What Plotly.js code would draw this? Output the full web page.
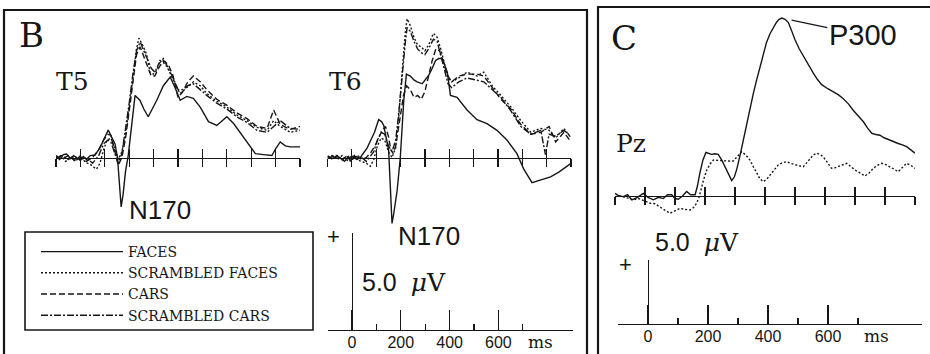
<!DOCTYPE html>
<html><head><meta charset="utf-8">
<script src="https://cdn.plot.ly/plotly-3.0.1.min.js"></script>
<style>html,body{margin:0;padding:0;background:#fff}#chart{width:930px;height:354px}</style>
</head><body><div id="chart"></div>
<script>
// ---------------- DATA (time in ms, amplitude in microvolts) ----------------
const seriesNames = ['FACES', 'SCRAMBLED FACES', 'CARS', 'SCRAMBLED CARS'];
const pzNames = ['FACES', 'SCRAMBLED FACES'];
const msTicks = [-100, 0, 100, 200, 300, 400, 500, 600, 700, 800, 900];
const scaleMajorTicks = [0, 200, 400, 600];
const scaleMajorLabels = ['0', '200', '400', '600'];
const scaleMinorTicks = [100, 300, 500, 700];
const scaleBarMicrovolts = [5.0];

// T5
const t5FacesT = [-100,-85,-70,-57,-40,-28,-16,0,12,25,40,60,80,98,114,128,142,152,160,167,175,185,196,210,224,244,260,278,295,313,340,368,388,409,436,463,491,525,559,600,628,669,700,717,751,785,800,819,840,860,900];
const t5FacesV = [0.05,-0.1,0.15,0.18,-0.05,0.1,0.0,-0.15,0.05,-0.1,0.1,0.13,0.5,1.0,1.42,1.05,0.7,0.0,-1.3,-2.55,-1.9,-0.7,0.1,1.8,3.2,2.95,2.5,2.1,2.5,2.95,3.7,4.15,3.6,2.95,3.15,3.05,2.6,1.85,1.65,2.1,1.75,1.05,0.55,0.2,0.15,0.1,0.45,0.8,0.6,0.55,0.55];
const t5ScrFacesT = [-100,-80,-60,-40,-20,0,20,40,55,66,80,95,110,125,140,155,170,185,200,215,230,240,255,272,285,299,313,326,340,354,368,381,395,409,436,463,491,518,559,600,641,683,724,765,792,819,860,900];
const t5ScrFacesV = [0.0,0.1,-0.2,0.05,-0.2,0.1,-0.25,-0.35,-0.5,-0.6,-0.3,0.4,0.9,1.0,0.5,-0.1,0.3,1.2,2.6,4.2,5.6,6.15,5.8,5.3,4.4,4.3,4.5,5.0,4.9,4.7,4.3,4.0,3.6,3.3,3.6,3.9,3.7,3.3,2.9,2.6,2.2,1.9,1.55,1.4,1.9,1.6,1.3,1.4];
const t5CarsT = [-100,-75,-50,-25,0,25,50,75,95,112,125,140,155,170,185,200,215,230,245,260,275,290,305,320,340,360,380,400,420,440,463,491,518,559,600,641,683,724,765,792,819,860,900];
const t5CarsV = [0.1,-0.1,0.1,-0.15,0.05,-0.2,0.0,0.4,0.9,1.2,1.15,0.4,-0.4,0.0,1.0,2.4,4.0,5.3,5.7,5.2,4.8,4.2,4.2,4.6,5.0,4.8,4.2,3.1,3.4,3.9,4.2,3.9,3.5,3.0,2.7,2.3,2.0,1.6,1.5,2.45,1.7,1.45,1.6];
const t5ScrCarsT = [-100,-75,-50,-25,0,25,50,75,95,112,125,140,155,170,185,200,215,230,245,260,275,290,305,320,340,360,380,400,420,440,463,491,518,559,600,641,683,724,765,792,819,860,900];
const t5ScrCarsV = [-0.05,0.1,-0.1,0.05,-0.1,0.0,-0.3,0.1,0.7,0.9,0.8,0.2,-0.3,0.2,1.4,2.8,4.3,5.5,5.95,5.5,5.0,4.6,4.4,4.8,5.1,4.6,4.1,3.5,3.5,3.7,3.8,3.5,3.2,2.8,2.5,2.1,1.8,1.4,1.3,1.6,1.9,1.5,1.45];

// T6
const t6FacesT = [-100,-80,-62,-47,-30,-15,-6,10,22,35,50,63,76,93,110,122,131,140,151,158,165,172,186,199,206,213,224,240,255,268,289,302,316,330,344,357,371,392,405,432,473,514,555,596,637,678,706,740,775,816,850,878,900];
const t6FacesV = [0.05,-0.05,0.1,-0.05,-0.2,0.05,-0.2,0.1,-0.1,0.0,0.3,0.5,0.85,1.3,1.95,1.85,1.65,1.1,0.4,-1.5,-3.4,-2.9,-1.7,0.0,1.5,2.9,4.3,4.2,4.0,3.9,3.8,4.0,4.25,4.6,5.0,5.1,5.1,4.4,3.2,3.1,2.45,1.95,1.75,1.4,0.9,0.2,-0.6,-1.3,-1.15,-1.0,-0.75,-0.5,-0.3];
const t6ScrFacesT = [-100,-80,-60,-40,-20,0,20,40,60,76,90,105,120,135,150,165,180,192,200,210,220,227,240,255,270,285,300,315,335,350,365,380,395,410,439,473,514,542,576,612,653,694,735,776,810,837,871,900];
const t6ScrFacesV = [0.0,0.1,-0.1,0.1,-0.15,0.1,-0.1,-0.2,-0.3,-0.45,-0.1,0.6,1.0,0.9,0.3,0.0,0.5,2.0,3.5,5.0,6.5,7.15,6.8,6.2,5.8,5.7,5.5,5.8,6.4,6.2,5.6,4.8,4.1,3.9,4.1,4.4,4.2,4.4,3.7,3.2,2.6,1.9,1.3,1.5,1.4,1.0,1.5,1.0];
const t6CarsT = [-100,-80,-60,-40,-20,0,20,40,60,80,95,110,125,138,150,160,170,180,190,200,212,225,240,255,270,285,300,315,330,345,360,375,390,410,439,473,514,542,576,612,653,694,735,776,810,837,871,900];
const t6CarsV = [0.1,-0.1,0.05,-0.15,0.1,-0.1,0.05,-0.1,0.0,0.3,0.6,1.0,1.4,1.6,1.1,0.4,0.2,0.6,1.3,2.2,3.2,3.7,3.5,3.1,3.2,3.0,3.4,4.2,5.0,5.6,5.5,5.0,4.3,3.9,4.2,4.3,4.3,4.2,3.6,3.0,2.5,1.7,1.2,1.3,1.6,0.8,1.3,0.8];
const t6ScrCarsT = [-100,-80,-60,-40,-20,0,20,40,60,76,90,105,120,135,150,165,180,192,200,210,220,227,240,255,270,285,300,315,335,350,365,380,395,410,439,473,514,542,576,612,653,694,735,776,795,810,837,871,900];
const t6ScrCarsV = [-0.05,0.05,0.1,-0.1,0.05,-0.1,0.1,0.0,-0.2,0.1,0.3,0.9,1.3,1.2,0.6,0.3,0.9,2.2,3.4,4.6,6.0,6.7,6.5,6.0,5.6,5.4,5.3,5.6,6.1,6.0,5.3,4.5,3.8,3.6,3.9,4.1,4.0,3.9,3.5,3.1,2.4,1.6,1.2,1.4,0.15,1.2,1.1,1.4,1.1];

// Pz
const pzFacesT = [-100,-86,-72,-58,-44,-25,-6,10,28,45,61,75,89,100,111,125,139,152,167,175,183,193,203,212,222,233,244,256,267,278,289,298,306,317,328,339,350,361,372,383,394,405,417,428,439,447,456,467,478,489,500,514,528,545,561,575,589,608,628,645,661,678,694,711,728,742,756,770,783,797,811,828,844,858,872,886,900];
const pzFacesV = [0.2,0.0,-0.05,0.1,-0.3,-0.1,0.2,-0.1,-0.3,-0.1,-0.2,0.1,0.1,-0.2,-0.25,0.0,0.35,0.1,0.1,0.8,1.8,2.8,3.4,3.3,3.25,3.3,3.25,2.8,2.3,1.7,1.2,1.5,2.1,3.2,4.4,5.7,7.0,8.0,9.05,10.1,11.1,12.0,12.7,13.2,13.6,13.8,13.9,13.8,13.55,12.9,12.2,11.5,10.9,10.2,9.6,9.1,8.7,8.4,8.15,7.9,7.6,7.2,6.7,6.25,5.8,5.3,4.9,4.8,4.75,4.55,4.4,4.25,4.1,4.0,3.85,3.6,3.35];
const pzScrT = [-100,-80,-60,-39,-20,0,17,33,50,66,83,100,117,133,150,162,172,180,189,197,206,217,228,245,261,278,294,308,322,336,350,361,372,383,394,405,417,430,444,458,472,486,500,514,528,539,550,561,572,583,594,608,622,633,644,658,672,686,700,717,733,747,761,775,789,803,817,830,844,858,872,886,900];
const pzScrV = [-0.05,0.0,-0.15,-0.3,-0.2,-0.4,-0.57,-0.6,-0.83,-1.1,-1.35,-1.15,-0.96,-1.05,-1.09,-0.9,-0.57,-0.1,0.73,1.4,2.03,2.5,2.81,2.78,2.73,2.73,2.73,3.1,3.46,3.2,2.81,2.3,1.77,1.35,1.12,1.3,1.64,2.05,2.42,2.6,2.68,2.55,2.42,2.35,2.29,2.6,2.94,3.2,3.34,3.25,3.07,2.6,2.16,2.2,2.29,2.45,2.55,2.3,2.03,1.8,1.56,1.8,2.16,2.4,2.55,2.45,2.29,2.1,1.9,2.2,2.55,2.4,2.16];

// ---------------- LAYOUT HELPERS ----------------
const W = 930, H = 354;
const INK = '#161616';
const fx = px => px / W;
const fy = py => 1 - py / H;
const dashes = ['solid', '2px,2px', '6px,3px', '7px,2px,2px,2px'];
const LW = 1.4;

function yAxisFor(topPx, botPx, basePx, pxPerUnit) {
  return {domain: [fy(botPx), fy(topPx)], range: [(basePx - botPx) / pxPerUnit, (basePx - topPx) / pxPerUnit],
          visible: false, fixedrange: true};
}
function timeAxis(leftPx, rightPx, basePx, up, overlay) {
  const a = {domain: [fx(leftPx), fx(rightPx)], range: [-100, 900], anchor: 'free', position: fy(basePx),
    showline: !overlay, linecolor: INK, linewidth: 1.3, ticks: up ? 'inside' : 'outside', ticklen: up ? 9 : 8,
    tickwidth: 1.2, tickcolor: INK, tickmode: 'array', tickvals: msTicks, showticklabels: false,
    showgrid: false, zeroline: false, fixedrange: true};
  if (overlay) a.overlaying = overlay;
  return a;
}
function scaleX(leftPx, rightPx, zeroPx, pxPerMs, yId, majorLen) {
  return {domain: [fx(leftPx), fx(rightPx)], range: [(leftPx - zeroPx) / pxPerMs, (rightPx - zeroPx) / pxPerMs],
    anchor: yId, showline: true, linecolor: INK, linewidth: 1.3, ticks: 'inside', ticklen: majorLen,
    tickwidth: 1.2, tickcolor: INK, tickmode: 'array', tickvals: scaleMajorTicks, ticktext: scaleMajorLabels,
    tickfont: {family: 'Liberation Sans', size: 16, color: INK}, ticklabelstandoff: -3,
    minor: {tickmode: 'array', tickvals: scaleMinorTicks, ticks: 'inside', ticklen: 6, tickwidth: 1.2, tickcolor: INK},
    showgrid: false, zeroline: false, fixedrange: true};
}
function scaleY(topPx, botPx, xPx) {
  return {domain: [fy(botPx), fy(topPx)], range: [0, scaleBarMicrovolts[0]], anchor: 'free', position: fx(xPx),
    side: 'left', showline: true, linecolor: INK, linewidth: 1.3, ticks: 'inside', ticklen: 6, tickwidth: 1.2,
    tickcolor: INK, tickmode: 'array', tickvals: scaleBarMicrovolts, showticklabels: false,
    showgrid: false, zeroline: false, fixedrange: true};
}

// ---------------- TRACES ----------------
const traces = [];
function addSeries(tArr, vArr, i, xa, ya, legend, name) {
  traces.push({x: tArr, y: vArr, type: 'scatter', mode: 'lines', name: name, xaxis: xa, yaxis: ya,
    line: {color: INK, width: LW, dash: dashes[i], shape: 'linear'}, showlegend: legend, hoverinfo: 'skip'});
}
const t5 = [[t5FacesT, t5FacesV], [t5ScrFacesT, t5ScrFacesV], [t5CarsT, t5CarsV], [t5ScrCarsT, t5ScrCarsV]];
const t6 = [[t6FacesT, t6FacesV], [t6ScrFacesT, t6ScrFacesV], [t6CarsT, t6CarsV], [t6ScrCarsT, t6ScrCarsV]];
const pz = [[pzFacesT, pzFacesV], [pzScrT, pzScrV]];
[3, 2, 1, 0].forEach(i => addSeries(t6[i][0], t6[i][1], i, 'x3', 'y2', false, seriesNames[i]));
[1, 0].forEach(i => addSeries(pz[i][0], pz[i][1], i, 'x5', 'y3', false, pzNames[i]));
[0, 1, 2, 3].forEach(i => addSeries(t5[i][0], t5[i][1], i, 'x', 'y', true, seriesNames[i]));
[['x2', 'y'], ['x4', 'y2'], ['x6', 'y3'], ['x7', 'y4'], ['x8', 'y5']].forEach(p =>
  traces.push({x: [], y: [], type: 'scatter', mode: 'lines', xaxis: p[0], yaxis: p[1], showlegend: false, hoverinfo: 'skip'}));

// ---------------- LAYOUT ----------------
const serif = 'DejaVu Serif';
const sans = 'Liberation Sans';
function label(text, xPx, yPx, family, size, xanchor) {
  return {text: text, x: fx(xPx), y: fy(yPx), xref: 'paper', yref: 'paper', xanchor: xanchor || 'left',
    yanchor: 'middle', showarrow: false, font: {family: family, size: size, color: INK}};
}
const uv = '5.0&nbsp;&nbsp;<span style="font-family:DejaVu Serif"><i>μ</i>V</span>';

const layout = {
  width: W, height: H, margin: {l: 0, r: 0, t: 0, b: 0},
  paper_bgcolor: '#ffffff', plot_bgcolor: 'rgba(0,0,0,0)', showlegend: true,
  xaxis: timeAxis(56, 300, 157.5, false), xaxis2: timeAxis(56, 300, 157.5, true, 'x'),
  yaxis: yAxisFor(20, 235, 157.5, 19.4),
  xaxis3: timeAxis(327.5, 571, 157.5, false), xaxis4: timeAxis(327.5, 571, 157.5, true, 'x3'),
  yaxis2: yAxisFor(15, 235, 157.5, 19.4),
  xaxis5: timeAxis(615, 915, 196, false), xaxis6: timeAxis(615, 915, 196, true, 'x5'),
  yaxis3: yAxisFor(10, 240, 196, 12.8),
  xaxis7: scaleX(328, 573, 352, 0.244, 'y4', 20), yaxis4: scaleY(233, 330, 352),
  xaxis8: scaleX(618, 922, 648, 0.30, 'y5', 19), yaxis5: scaleY(260, 324, 648),
  legend: {x: fx(36), y: fy(236), xanchor: 'left', yanchor: 'top', bgcolor: 'rgba(0,0,0,0)', borderwidth: 0,
    font: {family: serif, size: 14, color: INK}, itemwidth: 82, traceorder: 'normal', tracegroupgap: 0},
  shapes: [
    {type: 'rect', xref: 'paper', yref: 'paper', x0: fx(4), x1: fx(587), y0: fy(10), y1: fy(380), line: {color: INK, width: 2.2}},
    {type: 'rect', xref: 'paper', yref: 'paper', x0: fx(598), x1: fx(945), y0: fy(7), y1: fy(380), line: {color: INK, width: 2.2}},
    {type: 'rect', xref: 'paper', yref: 'paper', x0: fx(25), x1: fx(313), y0: fy(232), y1: fy(330), line: {color: INK, width: 1.6}}
  ],
  annotations: [
    label('B', 17, 35, serif, 34), label('C', 609, 38, serif, 34),
    label('T5', 54, 81, serif, 25), label('T6', 327, 81, serif, 25), label('Pz', 614, 143, serif, 25),
    label('N170', 127, 210, sans, 26), label('N170', 396, 236, sans, 26),
    label('+', 333, 236, sans, 22, 'center'), label('+', 625, 264, sans, 22, 'center'),
    label(uv, 360, 282, sans, 25), label(uv, 653, 243, sans, 25),
    label('ms', 540, 342, serif, 17, 'center'), label('ms', 876, 336, serif, 17, 'center'),
    {text: 'P300', x: pzFacesT[46], y: pzFacesV[46], xref: 'x5', yref: 'y3', showarrow: true, arrowhead: 0,
     arrowwidth: 1.2, arrowcolor: INK, ax: 81, ay: 17, standoff: 10, font: {family: sans, size: 29, color: INK}}
  ]
};

Plotly.newPlot('chart', traces, layout, {staticPlot: true, displayModeBar: false});
</script>
</body></html>
